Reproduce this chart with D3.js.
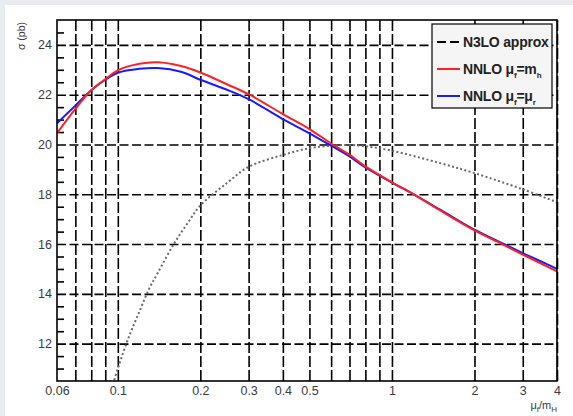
<!DOCTYPE html>
<html>
<head>
<meta charset="utf-8">
<script src="https://cdn.jsdelivr.net/npm/d3@7"></script>
<style>
  html, body { margin: 0; padding: 0; background: #e9ecef; }
  svg { display: block; }
  text { font-family: "Liberation Sans", Arial, Helvetica, sans-serif; }
</style>
</head>
<body>
<svg id="chart" width="573" height="416"></svg>
<script>
// Scale ratio mu_f / m_H where each cross section is evaluated
const muRatio = [0.06, 0.07, 0.08, 0.09, 0.1, 0.12, 0.14, 0.17, 0.2, 0.25, 0.3, 0.4, 0.5, 0.6, 0.7, 0.8, 1.0, 1.2, 1.5, 2, 2.5, 3, 3.5, 4];
// NNLO with mu_f = m_h (pb)
const nnloFixed = [20.45, 21.43, 22.18, 22.62, 22.98, 23.24, 23.3, 23.15, 22.89, 22.42, 22.02, 21.22, 20.62, 20.04, 19.59, 19.12, 18.48, 18.0, 17.35, 16.55, 16.02, 15.58, 15.22, 14.9];
// NNLO with mu_f = mu_r (pb)
const nnloEqual = [20.85, 21.56, 22.18, 22.6, 22.88, 23.04, 23.07, 22.92, 22.6, 22.2, 21.82, 21.02, 20.45, 19.95, 19.52, 19.08, 18.47, 18.0, 17.38, 16.58, 16.06, 15.64, 15.3, 15.0];
// Approximate N3LO (pb)
const n3loRatio = [0.095, 0.1, 0.11, 0.12, 0.13, 0.14, 0.16, 0.18, 0.2, 0.25, 0.3, 0.4, 0.5, 0.6, 0.7, 0.8, 1.0, 1.5, 2, 3, 4];
const n3loApprox = [10.2, 11.0, 12.3, 13.3, 14.2, 14.85, 16.0, 16.85, 17.55, 18.45, 19.1, 19.58, 19.85, 19.95, 19.98, 19.93, 19.75, 19.25, 18.85, 18.2, 17.68];

// Axis ticks
const xGridTicks = [0.07, 0.08, 0.09, 0.1, 0.2, 0.3, 0.4, 0.5, 0.6, 0.7, 0.8, 0.9, 1, 2, 3, 4];
const xLabelTicks = [0.06, 0.1, 0.2, 0.3, 0.4, 0.5, 1, 2, 3, 4];
const xLabelText = ["0.06", "0.1", "0.2", "0.3", "0.4", "0.5", "1", "2", "3", "4"];
const yMajorTicks = [12, 14, 16, 18, 20, 22, 24];
const yMinorTicks = [11, 11.5, 12.5, 13, 13.5, 14.5, 15, 15.5, 16.5, 17, 17.5, 18.5, 19, 19.5, 20.5, 21, 21.5, 22.5, 23, 23.5, 24.5];

const svg = d3.select("#chart");
const W = 573, H = 416;
const m = { left: 57, right: 16, top: 20, bottom: 35 };
const pw = W - m.left - m.right, ph = H - m.top - m.bottom;

// page background
svg.append("rect").attr("x", 5).attr("y", 5).attr("width", W - 5).attr("height", H - 5).attr("fill", "#ffffff");

const x = d3.scaleLog().domain([0.06, 4]).range([m.left, m.left + pw]);
const y = d3.scaleLinear().domain([10.5, 25]).range([m.top + ph, m.top]);

svg.append("defs").append("clipPath").attr("id", "plotClip")
  .append("rect").attr("x", m.left).attr("y", m.top).attr("width", pw).attr("height", ph);

// grid
const gridX = svg.append("g").attr("transform", `translate(0,${m.top + ph})`)
  .call(d3.axisBottom(x).tickValues(xGridTicks).tickSize(-ph).tickFormat(""));
gridX.select(".domain").remove();
gridX.selectAll("line").attr("stroke", "#000").attr("stroke-width", 1.6).attr("stroke-dasharray", "11,3");

const gridY = svg.append("g").attr("transform", `translate(${m.left},0)`)
  .call(d3.axisLeft(y).tickValues(yMajorTicks).tickSize(-pw).tickFormat(""));
gridY.select(".domain").remove();
gridY.selectAll("line").attr("stroke", "#000").attr("stroke-width", 1.6).attr("stroke-dasharray", "9,3.5");

// minor ticks on the y axis, pointing inwards
const minorY = svg.append("g").attr("transform", `translate(${m.left},0)`)
  .call(d3.axisRight(y).tickValues(yMinorTicks).tickSize(7).tickFormat(""));
minorY.select(".domain").remove();
minorY.selectAll("line").attr("stroke", "#000").attr("stroke-width", 1.6);

// curves
const plot = svg.append("g").attr("clip-path", "url(#plotClip)");
const line = (xs, ys) => d3.line().x((d, i) => x(xs[i])).y(d => y(d))
  .curve(d3.curveCatmullRom.alpha(0.5))(ys);

plot.append("path").attr("d", line(n3loRatio, n3loApprox))
  .attr("fill", "none").attr("stroke", "#6a6a6a").attr("stroke-width", 2).attr("stroke-dasharray", "2,2.4");
plot.append("path").attr("d", line(muRatio, nnloEqual))
  .attr("fill", "none").attr("stroke", "#1a1aff").attr("stroke-width", 2);
plot.append("path").attr("d", line(muRatio, nnloFixed))
  .attr("fill", "none").attr("stroke", "#ff2020").attr("stroke-width", 2);

// frame
svg.append("rect").attr("x", m.left).attr("y", m.top).attr("width", pw).attr("height", ph)
  .attr("fill", "none").attr("stroke", "#000").attr("stroke-width", 1.6);

// tick labels
const xAxis = svg.append("g").attr("transform", `translate(0,${m.top + ph})`)
  .call(d3.axisBottom(x).tickValues(xLabelTicks).tickSize(0).tickPadding(5)
    .tickFormat((d, i) => xLabelText[i]));
xAxis.select(".domain").remove();
xAxis.selectAll("text").attr("font-size", 12.5).attr("fill", "#3a3a44")
  .attr("font-family", "Liberation Sans, Arial, sans-serif");

const yAxis = svg.append("g").attr("transform", `translate(${m.left},0)`)
  .call(d3.axisLeft(y).tickValues(yMajorTicks).tickSize(0).tickPadding(5));
yAxis.select(".domain").remove();
yAxis.selectAll("text").attr("font-size", 12.5).attr("fill", "#3a3a44")
  .attr("font-family", "Liberation Sans, Arial, sans-serif");

// axis titles
svg.append("text").attr("transform", "translate(25,22) rotate(-90)")
  .attr("text-anchor", "end").attr("font-size", 10.5).attr("fill", "#3a3a44")
  .text("σ (pb)");

const xt = svg.append("text").attr("x", m.left + pw).attr("y", 409)
  .attr("text-anchor", "end").attr("font-size", 11).attr("fill", "#3a3a44");
xt.append("tspan").text("μ");
xt.append("tspan").attr("font-size", 8).attr("dy", 3).text("f");
xt.append("tspan").attr("dy", -3).text("/m");
xt.append("tspan").attr("font-size", 8).attr("dy", 3).text("H");

// legend
const lg = svg.append("g");
lg.append("rect").attr("x", 432).attr("y", 24).attr("width", 120).attr("height", 84)
  .attr("fill", "#f5f5f5").attr("stroke", "#000").attr("stroke-width", 1.2);

const entries = [
  { y: 42, color: "#000", dash: "9,4", parts: [["N3LO approx", 0]] },
  { y: 69, color: "#ff2020", dash: null, parts: [["NNLO μ", 0], ["f", 1], ["=m", 0], ["h", 1]] },
  { y: 96, color: "#1a1aff", dash: null, parts: [["NNLO μ", 0], ["f", 1], ["=μ", 0], ["r", 1]] }
];
entries.forEach(e => {
  lg.append("line").attr("x1", 437).attr("x2", 460).attr("y1", e.y).attr("y2", e.y)
    .attr("stroke", e.color).attr("stroke-width", 2).attr("stroke-dasharray", e.dash);
  const t = lg.append("text").attr("x", 463).attr("y", e.y + 5)
    .attr("font-size", 14).attr("font-weight", "bold").attr("fill", "#222")
    .attr("letter-spacing", -0.2);
  let sub = 0;
  e.parts.forEach(([s, isSub]) => {
    const ts = t.append("tspan").text(s);
    if (isSub && !sub) { ts.attr("dy", 4).attr("font-size", 8); sub = 1; }
    else if (!isSub && sub) { ts.attr("dy", -4); sub = 0; }
    else if (isSub) { ts.attr("font-size", 8); }
  });
});
</script>
</body>
</html>
